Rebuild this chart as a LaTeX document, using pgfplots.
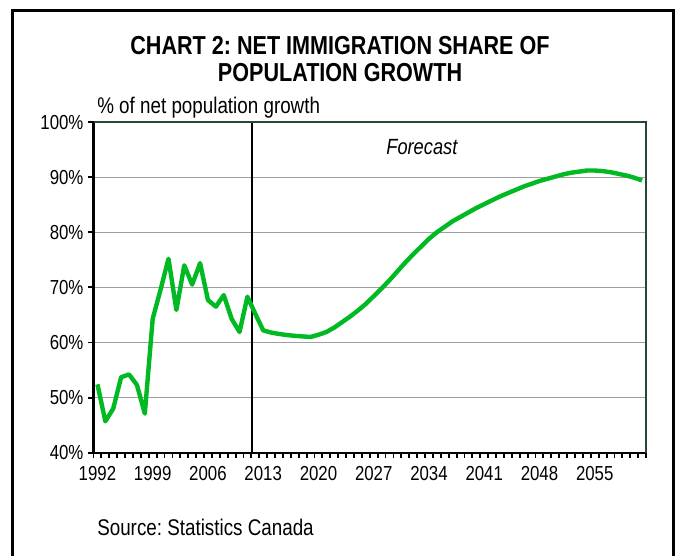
\documentclass[border=0pt]{standalone}
\usepackage{fontspec}
\setmainfont{Liberation Sans}[FakeStretch=0.83]
\usepackage{pgfplots}
\usepackage{pgfplotstable}
\pgfplotsset{compat=1.18}
\definecolor{lgreen}{RGB}{0,185,35}
\definecolor{dkgreen}{RGB}{40,72,50}
\pgfplotstableread{
year share
1992 52.4
1993 45.7
1994 48.0
1995 53.7
1996 54.2
1997 52.3
1998 47.1
1999 64.3
2000 69.6
2001 75.2
2002 65.9
2003 74.0
2004 70.5
2005 74.4
2006 67.7
2007 66.5
2008 68.6
2009 64.3
2010 61.9
2011 68.3
2012 65.2
2013 62.2
2014 61.8
2015 61.55
2016 61.35
2017 61.2
2018 61.1
2019 61.0
2020 61.4
2021 61.9
2022 62.7
2023 63.7
2024 64.7
2025 65.8
2026 67.0
2027 68.4
2028 69.8
2029 71.3
2030 72.9
2031 74.5
2032 76.0
2033 77.4
2034 78.8
2035 80.0
2036 81.0
2037 82.0
2038 82.8
2039 83.6
2040 84.4
2041 85.1
2042 85.8
2043 86.5
2044 87.1
2045 87.7
2046 88.3
2047 88.8
2048 89.3
2049 89.7
2050 90.1
2051 90.5
2052 90.8
2053 91.0
2054 91.2
2055 91.2
2056 91.1
2057 90.9
2058 90.6
2059 90.3
2060 89.9
2061 89.4
}\datatable
\begin{document}
\frenchspacing
\begin{tikzpicture}[x=0.75pt,y=-0.75pt]
\useasboundingbox (0,0) rectangle (681,556);
\draw[line width=2.25pt] (12,600) -- (12,11) -- (673,11) -- (673,600);
\node[font=\fontsize{19.5}{20}\selectfont\bfseries] at (340,46) {CHART 2: NET IMMIGRATION SHARE OF};
\node[font=\fontsize{19.5}{20}\selectfont\bfseries] at (340,73) {POPULATION GROWTH};
\node[anchor=west, inner sep=0pt, font=\fontsize{17}{19}\selectfont] at (97,108) {\% of net population growth};
\node[anchor=west, inner sep=0pt, font=\fontsize{17}{19}\selectfont] at (97,527) {Source: Statistics Canada};
\begin{axis}[
  at={(70.125pt,-339.525pt)}, anchor=south west,
  scale only axis, width=414.4pt, height=248pt,
  xmin=1991.5, xmax=2061.5, ymin=40, ymax=100,
  axis x line*=bottom, axis y line*=left,
  axis line style={line width=1.8pt, black, -},
  ytick={40,50,...,100},
  yticklabel={\pgfmathprintnumber{\tick}\%},
  xtick={1992,1999,...,2055},
  minor xtick={1991.5,1992.5,...,2061.5},
  major x tick style={draw=none},
  tick align=outside,
  major tick length=4pt, minor tick length=4pt,
  every tick/.style={black, line width=1.4pt},
  ymajorgrids, grid style={draw=gray!75, line width=0.7pt},
  /pgf/number format/1000 sep={},
  /pgf/number format/assume math mode=true,
  ticklabel style={font=\fontsize{15.2}{17}\selectfont},
  xticklabel style={yshift=-3pt},
  clip=false,
]
\addplot[black, line width=1.1pt] coordinates {(2011.6,40) (2011.6,100)};
\addplot[lgreen, line width=3.3pt, line join=round] table[x=year, y=share] {\datatable};
\draw[dkgreen, line width=1.3pt] (rel axis cs:0,1) -- (rel axis cs:1,1) -- (rel axis cs:1,0);
\node[font=\fontsize{16.5}{18}\selectfont\itshape] at (axis cs:2033.1,95.4) {Forecast};
\end{axis}
\end{tikzpicture}
\end{document}
